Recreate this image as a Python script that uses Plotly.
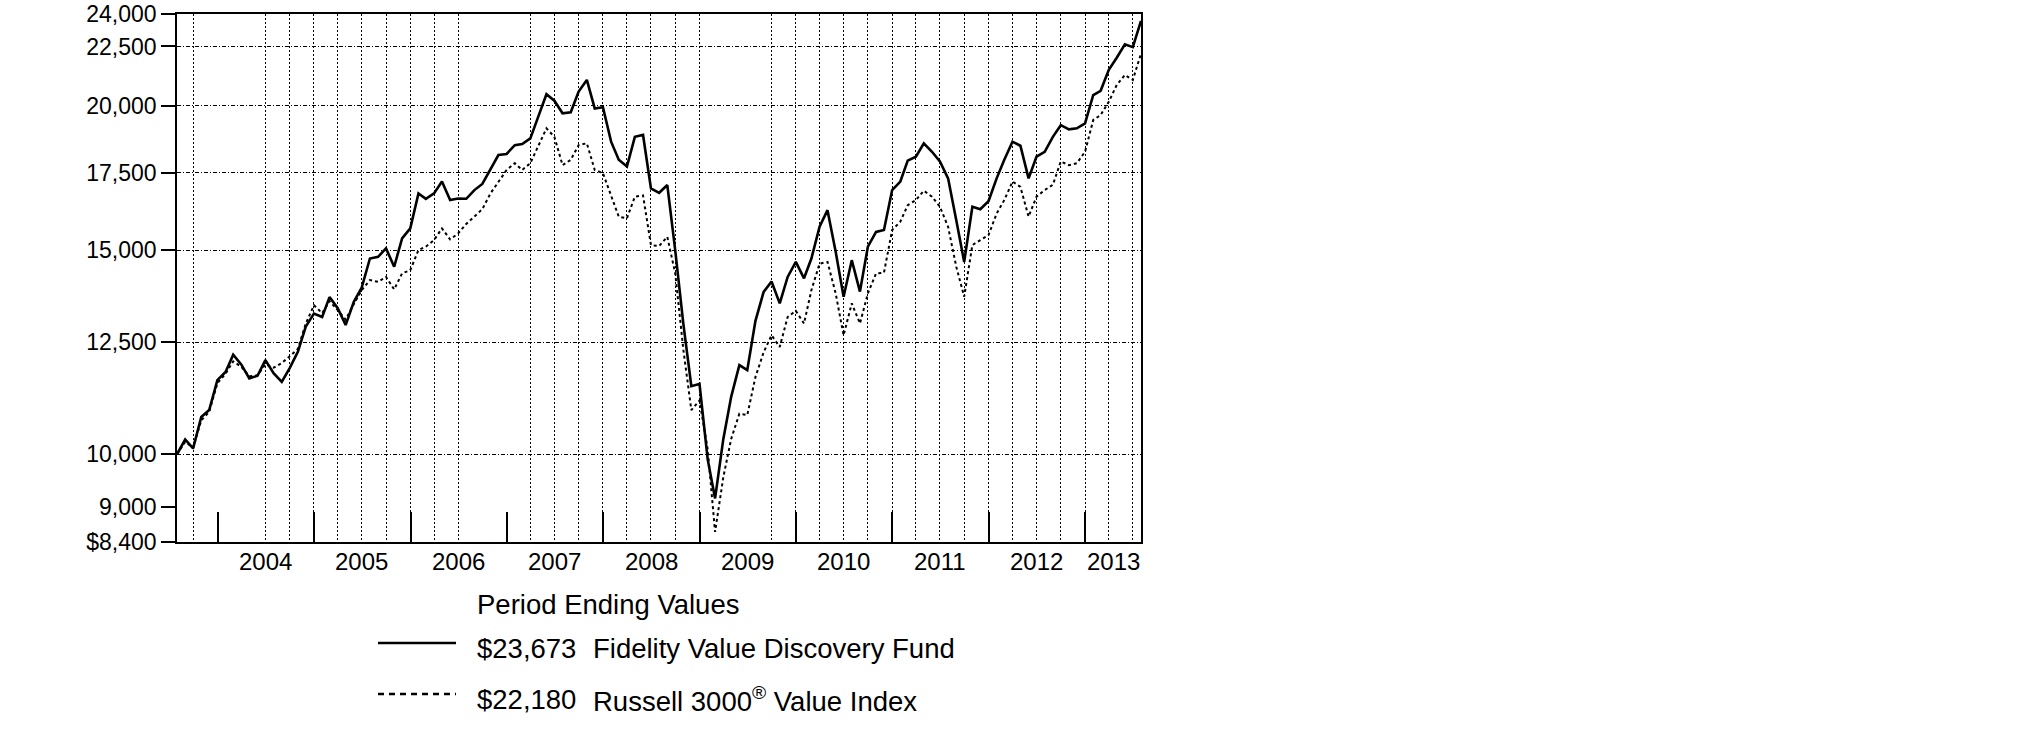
import numpy as np
import pandas as pd
import plotly.graph_objects as go

# nilai akhir bulan, Jul 2003 - Jul 2013 (investasi awal $10,000)
months = pd.date_range("2003-07-31", periods=121, freq=pd.offsets.MonthEnd())

fund = [
    10000, 10300, 10120, 10770, 10920, 11590, 11780, 12190, 11950, 11630,
    11690, 12060, 11750, 11550, 11870, 12260, 12890, 13230, 13140, 13670,
    13370, 12930, 13540, 13930, 14760, 14810, 15060, 14520, 15360, 15670,
    16800, 16620, 16800, 17200, 16580, 16630, 16620, 16910, 17120, 17600,
    18130, 18170, 18490, 18530, 18740, 19570, 20460, 20200, 19700, 19740,
    20570, 21050, 19890, 19940, 18620, 17960, 17720, 18800, 18870, 16970,
    16820, 17080, 15000, 12950, 11450, 11500, 9900, 9160, 10300, 11210,
    11940, 11820, 13040, 13810, 14100, 13500, 14230, 14660, 14190, 14760,
    15720, 16250, 14960, 13680, 14710, 13820, 15110, 15560, 15620, 16910,
    17200, 17930, 18070, 18560, 18250, 17900, 17310, 15930, 14660, 16360,
    16280, 16540, 17310, 17960, 18620, 18470, 17310, 18070, 18250, 18800,
    19240, 19080, 19120, 19310, 20430, 20600, 21480, 22000, 22600, 22470,
    23673,
]

russell = [
    10000, 10250, 10130, 10700, 10880, 11520, 11740, 12030, 11900, 11680,
    11700, 11960, 11880, 11990, 12150, 12330, 12970, 13450, 13240, 13560,
    13320, 13070, 13480, 13860, 14140, 14090, 14230, 13880, 14330, 14420,
    15010, 15110, 15310, 15670, 15330, 15510, 15810, 16060, 16280, 16800,
    17200, 17600, 17840, 17600, 17840, 18490, 19120, 18800, 17770, 17960,
    18490, 18560, 17600, 17490, 16690, 16040, 15990, 16690, 16730, 15160,
    15130, 15410, 14330, 12300, 10920, 11130, 10100, 8570, 9550, 10310,
    10840, 10810, 11660, 12250, 12670, 12380, 13140, 13300, 12970, 13860,
    14610, 14660, 13770, 12670, 13500, 12970, 13770, 14330, 14350, 15620,
    15880, 16410, 16580, 16890, 16690, 16360, 15720, 14520, 13680, 15160,
    15310, 15460, 16140, 16580, 17200, 17020, 16040, 16690, 16910, 17090,
    17900, 17770, 17840, 18250, 19440, 19630, 20160, 20840, 21260, 21050,
    22180,
]

years = list(range(2004, 2014))
y_ticks = [8400, 9000, 10000, 12500, 15000, 17500, 20000, 22500, 24000]
y_ticktext = ["$8,400", "9,000", "10,000", "12,500", "15,000", "17,500",
              "20,000", "22,500", "24,000"]
y_grid = [10000, 12500, 15000, 17500, 20000, 22500]

# garis grid vertikal tiap akhir kuartal (beberapa memang tidak ada di gambar asli)
hilang = ["2003-12-31", "2004-03-31", "2006-09-30", "2006-12-31", "2009-03-31", "2009-06-30"]
x_grid = [d for d in months if d.month in (3, 6, 9, 12) and d.strftime("%Y-%m-%d") not in hilang]

FONT = "Liberation Sans, Arial, sans-serif"

# area plot dalam piksel
L, R, T, B = 177, 1141, 14, 542


def px(x):
    return (x - L) / (R - L)


def py(y):
    return (B - y) / (B - T)


fig = go.Figure()

fig.add_trace(go.Scatter(
    x=months, y=fund, mode="lines",
    line=dict(color="black", width=2.6),
    name="Fidelity Value Discovery Fund",
))
fig.add_trace(go.Scatter(
    x=months, y=russell, mode="lines",
    line=dict(color="black", width=2, dash="3px,3px"),
    name="Russell 3000 Value Index",
))

# label tahun di tengah tiap tahun
end = months[-1]
for yr in years:
    if yr == 2013:
        pos = pd.Timestamp("2013-01-01") + (end - pd.Timestamp("2013-01-01")) / 2
    else:
        pos = pd.Timestamp(f"{yr}-07-01")
    fig.add_annotation(x=pos, y=py(561), xref="x", yref="paper", text=str(yr),
                       showarrow=False, xanchor="center", yanchor="middle",
                       font=dict(size=24, family=FONT, color="black"))

# legenda manual
fig.add_annotation(x=px(475), y=py(604), xref="paper", yref="paper",
                   text="Period Ending Values", showarrow=False,
                   xanchor="left", yanchor="middle",
                   font=dict(size=27.5, family=FONT, color="black"))
legend_rows = [
    ("$23,673", "Fidelity Value Discovery Fund", 643, 648, "solid"),
    ("$22,180", "Russell 3000<sup>®</sup> Value Index", 694, 699, "6px,5px"),
]
for val, label, yl, yt, dash in legend_rows:
    fig.add_shape(type="line", xref="paper", yref="paper",
                  x0=px(378), x1=px(456), y0=py(yl), y1=py(yl),
                  line=dict(color="black", width=2.6, dash=dash))
    fig.add_annotation(x=px(475), y=py(yt), xref="paper", yref="paper",
                       text=val, showarrow=False, xanchor="left", yanchor="middle",
                       font=dict(size=27.5, family=FONT, color="black"))
    fig.add_annotation(x=px(591), y=py(yt), xref="paper", yref="paper",
                       text=label, showarrow=False, xanchor="left", yanchor="middle",
                       font=dict(size=27.5, family=FONT, color="black"))

fig.update_layout(
    width=2025, height=743, autosize=False,
    margin=dict(l=L, r=2025 - R, t=T, b=743 - B, pad=0, autoexpand=False),
    paper_bgcolor="white", plot_bgcolor="white",
    showlegend=False,
    font=dict(family=FONT, size=23, color="black"),
    xaxis=dict(
        type="date", range=["2003-07-31", "2013-07-31"], automargin=False,
        showgrid=False, zeroline=False,
        showline=True, mirror=True, linecolor="black", linewidth=1.5,
        tickmode="array", tickvals=[f"{yr}-01-01" for yr in years],
        ticks="inside", ticklen=30, tickwidth=2, tickcolor="black",
        showticklabels=False,
        minor=dict(tickmode="array", tickvals=x_grid, ticks="", showgrid=True,
                   gridcolor="black", gridwidth=1, griddash="2px,2px"),
    ),
    yaxis=dict(
        type="log", range=[np.log10(8400), np.log10(24000)], automargin=False,
        tickmode="array", tickvals=y_ticks, ticktext=y_ticktext,
        ticks="outside", ticklen=14, tickwidth=2, tickcolor="black",
        tickfont=dict(size=23, family=FONT, color="black"),
        showgrid=False, zeroline=False,
        showline=True, mirror=True, linecolor="black", linewidth=1.5,
        minor=dict(tickmode="array", tickvals=y_grid, ticks="", showgrid=True,
                   gridcolor="black", gridwidth=1, griddash="4px,2px,1px,2px"),
    ),
)

# buang margin bawaan body supaya gambar mulai tepat di pojok kiri atas
fig.write_html("out.html", config={"displayModeBar": False},
               post_script="document.body.style.margin='0px';")
